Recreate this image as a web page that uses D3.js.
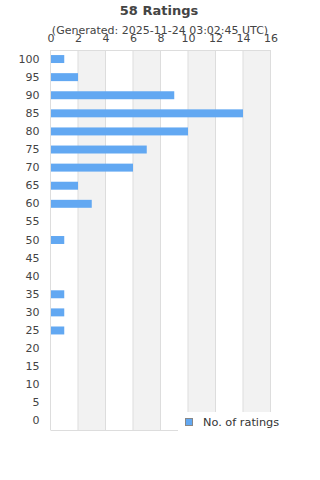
<!DOCTYPE html>
<html><head><meta charset="utf-8">
<script src="https://cdn.jsdelivr.net/npm/d3@7"></script>
<style>body{margin:0;background:#fff}svg{display:block;font-family:"DejaVu Sans",sans-serif}</style>
</head><body><svg id="c" width="320" height="480"></svg>
<script>
const categories = ["100","95","90","85","80","75","70","65","60","55","50","45","40","35","30","25","20","15","10","5","0"];
const counts = [1,2,9,14,10,7,6,2,3,0,1,0,0,1,1,1,0,0,0,0,0];
const xTicks = [0,2,4,6,8,10,12,14,16];
const seriesName = "No. of ratings";
const titleText = "58 Ratings";
const subtitleText = "(Generated: 2025-11-24 03:02:45 UTC)";

const svg = d3.select("#c");
const L = 50.5, R = 270.5, T = 50, B = 430;
const x = d3.scaleLinear().domain([0,16]).range([L,R]);
const y = d3.scaleBand().domain(categories).range([T,B]).paddingInner(0.56).paddingOuter(0.28);
const yc = d3.scaleBand().domain(categories).range([T,B]);

// alternating bands
const bands = d3.range(1, xTicks.length-1, 2).map(i => [xTicks[i], xTicks[i+1]]);
svg.append("g").selectAll("rect").data(bands).join("rect")
  .attr("x", d => x(d[0])).attr("y", T).attr("width", d => x(d[1]) - x(d[0])).attr("height", B - T)
  .attr("fill", "#f2f2f2");
// gridlines
svg.append("g").selectAll("line").data(xTicks).join("line")
  .attr("x1", d => x(d)).attr("x2", d => x(d)).attr("y1", T).attr("y2", B)
  .attr("stroke", "#dddddd").attr("stroke-width", 1);
svg.append("line").attr("x1", L).attr("x2", R).attr("y1", T+0.5).attr("y2", T+0.5).attr("stroke","#dddddd");
svg.append("line").attr("x1", L).attr("x2", R).attr("y1", B+0.5).attr("y2", B+0.5).attr("stroke","#dddddd");

// bars
svg.append("g").selectAll("rect").data(counts).join("rect")
  .attr("x", x(0)+0.5).attr("y", (d,i) => y(categories[i]))
  .attr("width", d => Math.max(0, x(d) - x(0) - 0.5)).attr("height", y.bandwidth())
  .attr("fill", "#62a8f2");

// top axis
const xa = svg.append("g").attr("transform", `translate(0,${T})`)
  .call(d3.axisTop(x).tickValues(xTicks).tickSize(0).tickPadding(8));
xa.select(".domain").remove();
xa.selectAll("text").attr("fill", "#444").style("font-size", "11px").style("font-family", "DejaVu Sans");

// left axis
const ya = svg.append("g").attr("transform", `translate(${L},0)`)
  .call(d3.axisLeft(yc).tickSize(0).tickPadding(11));
ya.select(".domain").remove();
ya.selectAll("text").attr("fill", "#444").style("font-size", "11px").style("font-family", "DejaVu Sans");

// title
svg.append("text").attr("x", 159).attr("y", 15).attr("text-anchor", "middle")
  .attr("fill", "#444").style("font-size", "13px").style("font-weight", "bold").text(titleText);
svg.append("text").attr("x", 160).attr("y", 34).attr("text-anchor", "middle")
  .attr("fill", "#444").style("font-size", "11px").text(subtitleText);

// legend
const lg = svg.append("g");
lg.append("rect").attr("x", 178).attr("y", 412).attr("width", 142).attr("height", 24).attr("fill", "#fff");
lg.append("rect").attr("x", 185.5).attr("y", 418.5).attr("width", 7).attr("height", 7)
  .attr("fill", "#62a8f2").attr("stroke", "#888").attr("stroke-width", 1);
lg.append("text").attr("x", 203).attr("y", 426).attr("fill", "#333").style("font-size", "11.3px").text(seriesName);
</script></body></html>
